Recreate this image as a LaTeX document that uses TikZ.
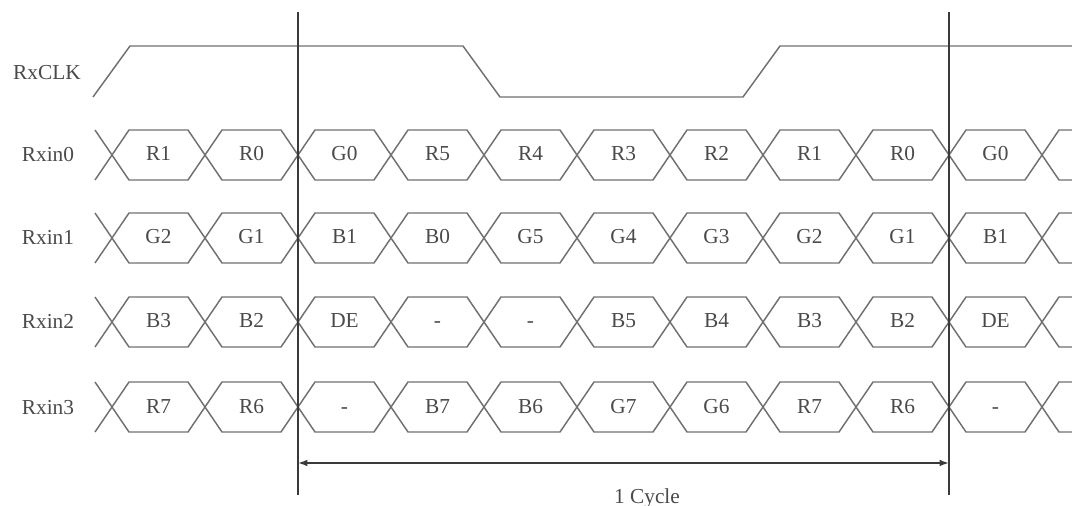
\documentclass[tikz,border=0pt]{standalone}
\usepackage{fontspec}
\setmainfont{Liberation Serif}
\usetikzlibrary{arrows.meta}
\definecolor{wave}{HTML}{707070}
\definecolor{txt}{HTML}{4A4A4A}
\definecolor{vline}{HTML}{3A3A3A}
\begin{document}
\begin{tikzpicture}[x=0.75pt,y=-0.75pt,
  wavestyle/.style={draw=wave,line width=1.1pt,line join=miter},
  lbl/.style={text=txt,font=\fontsize{16}{18}\selectfont,inner sep=0pt,anchor=base},
  marker/.style={draw=vline,line width=1.4pt},
  span/.style={draw=vline,line width=1.2pt,{Latex[length=7pt,width=5pt]}-{Latex[length=7pt,width=5pt]}}]
\useasboundingbox (0,0) rectangle (1072,506);
\begin{scope}
\clip (0,0) rectangle (1072,506);
% clock
\node[lbl] (clk) at (47,80) {RxCLK};
\draw[wavestyle] (93,97) -- (130,46) -- (463,46) -- (500,97) -- (743,97) -- (780,46) -- (1080,46);
% data rows
\foreach \n/\y/\vals in {
  0/155/{R1,R0,G0,R5,R4,R3,R2,R1,R0,G0},
  1/238/{G2,G1,B1,B0,G5,G4,G3,G2,G1,B1},
  2/322/{B3,B2,DE,-,-,B5,B4,B3,B2,DE},
  3/407/{R7,R6,-,B7,B6,G7,G6,R7,R6,-}} {
  \node[lbl] (lab\n) at (48,\y+7) {Rxin\n};
  \draw[wavestyle] (95,\y-25) -- (112,\y) -- (95,\y+25);
  \foreach \v [count=\k from 0] in \vals {
    \pgfmathsetmacro\xa{112+93*\k}
    \pgfmathsetmacro\xb{\xa+93}
    \draw[wavestyle] (\xa,\y) -- (\xa+17,\y-25) -- (\xb-17,\y-25) -- (\xb,\y)
      -- (\xb-17,\y+25) -- (\xa+17,\y+25) -- cycle;
    \node[lbl] (c\n-\k) at ({(\xa+\xb)/2},\y+6) {\v};
  }
  \draw[wavestyle] (1042,\y) -- (1059,\y-25) -- (1080,\y-25);
  \draw[wavestyle] (1042,\y) -- (1059,\y+25) -- (1080,\y+25);
}
% cycle markers
\coordinate (m1t) at (298,12);
\coordinate (m1b) at (298,495);
\coordinate (m2t) at (949,12);
\coordinate (m2b) at (949,495);
\draw[marker] (m1t) -- (m1b);
\draw[marker] (m2t) -- (m2b);
\coordinate (a1) at (298,463);
\coordinate (a2) at (949,463);
\draw[span] (a1) -- (a2);
\node[lbl] (cyc) at (647,503) {1 Cycle};
\end{scope}
\end{tikzpicture}
\end{document}
